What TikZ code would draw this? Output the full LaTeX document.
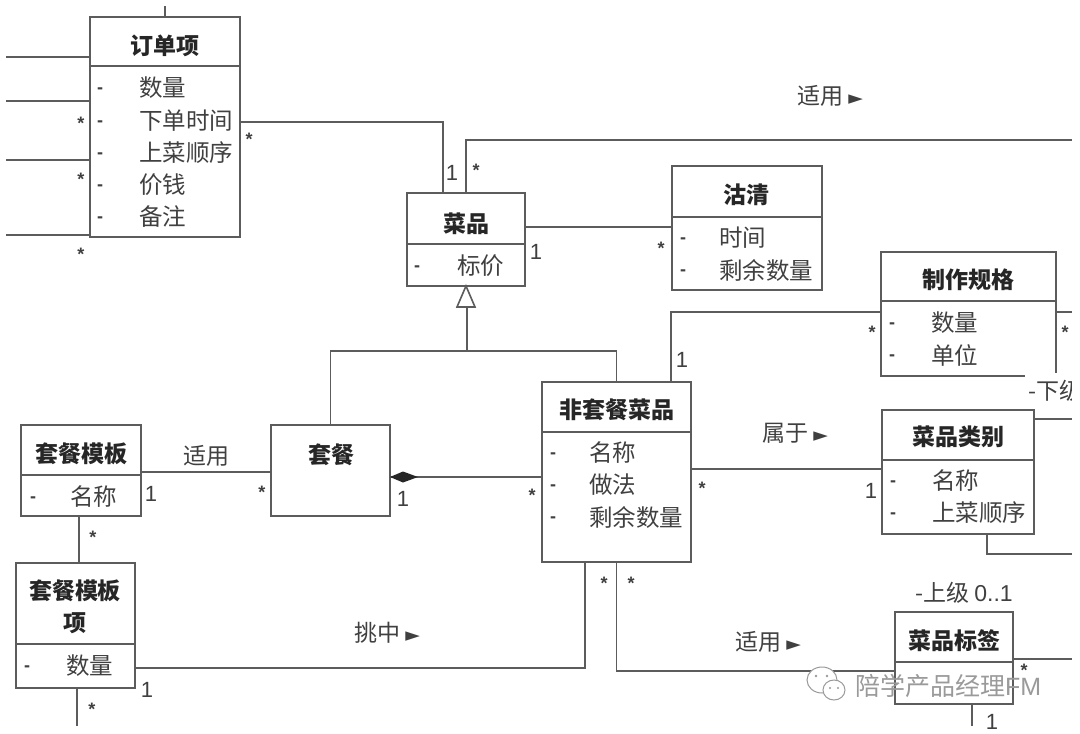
\documentclass[tikz,border=0pt]{standalone}
\usepackage{fontspec}
\setmainfont{Noto Sans CJK SC}
\newfontfamily\symfont{DejaVu Sans}
\newfontfamily\latinfont{Liberation Sans}
\usetikzlibrary{calc}
\definecolor{linec}{HTML}{5C5C5C}
\definecolor{textc}{HTML}{404040}
\definecolor{titlec}{HTML}{262626}
\definecolor{markc}{HTML}{9A9A9A}
\newcommand{\umlbox}[6]{% name x1 y1 x2 y2 divider
  \pgfmathsetmacro{\bw}{#4-#2}\pgfmathsetmacro{\bh}{#5-#3}
  \node[boxnode,minimum width=\bw pt,minimum height=\bh pt,anchor=north west] (#1) at (#2,#3) {};
  \ifx&#6&\else\draw[conn] (#2,#6) -- (#4,#6);\fi}
\newcommand{\arrowsign}{{\symfont\fontsize{19}{19}\selectfont ►}}
\tikzset{
  x=1pt,y=-1pt,
  boxnode/.style={draw=linec,line width=1.6pt,fill=white,inner sep=0pt,outer sep=0pt,rectangle},
  conn/.style={draw=linec,line width=1.6pt},
  title/.style={font=\bfseries\fontsize{23}{25}\selectfont,text=titlec,inner sep=0pt},
  attr/.style={font=\fontsize{23.5}{25}\selectfont,text=textc,inner sep=0pt,anchor=west},
  dashmark/.style={font=\latinfont\bfseries\fontsize{18}{20}\selectfont,text=textc,inner sep=0pt,yshift=-3pt},
  lab/.style={font=\fontsize{23}{25}\selectfont,text=textc,inner sep=0pt},
  one/.style={font=\latinfont\fontsize{22}{24}\selectfont,text=textc,inner sep=0pt},
  many/.style={font=\latinfont\bfseries\fontsize{18}{18}\selectfont,text=textc,inner sep=0pt},
  wm/.style={font=\fontsize{25}{27}\selectfont,text=markc,inner sep=0pt,anchor=west},
}
\begin{document}
\begin{tikzpicture}
\useasboundingbox[fill=white] (0,0) rectangle (1080,734);
% free ends
\coordinate (ltA) at (6,57);\coordinate (ltB) at (6,101);\coordinate (ltC) at (6,160);\coordinate (ltD) at (6,235);
\coordinate (topA) at (165,6);
\coordinate (rtA) at (1072,140);\coordinate (rtB) at (1072,312);\coordinate (rtC) at (1072,419);
\coordinate (rtD) at (1072,554);\coordinate (rtE) at (1072,659);
\coordinate (btA) at (77,726);\coordinate (btB) at (972,726);
% boxes
\umlbox{item}{90}{17}{240}{237}{66}
\umlbox{dish}{407}{193}{525}{286}{244}
\umlbox{sold}{672}{166}{822}{290}{217}
\umlbox{spec}{881}{252}{1056}{376}{301}
\umlbox{cate}{882}{410}{1034}{534}{460}
\umlbox{plain}{542}{382}{691}{562}{432}
\umlbox{combo}{271}{425}{390}{516}{}
\umlbox{tmpl}{21}{425}{141}{516}{475}
\umlbox{tmit}{16}{563}{135}{688}{644}
\umlbox{tag}{895}{612}{1013}{704}{662}
% connectors
\draw[conn] (ltA) -- (ltA -| item.west);
\draw[conn] (ltB) -- (ltB -| item.west);
\draw[conn] (ltC) -- (ltC -| item.west);
\draw[conn] (ltD) -- (ltD -| item.west);
\draw[conn] (topA) -- (item.north);
\draw[conn] ([yshift=5]item.east) -| ([xshift=36]dish.north west);
\draw[conn] (dish.north) |- (rtA);
\draw[conn] ([yshift=12.5]dish.east) -- ([yshift=12.5]dish.east -| sold.west);
% inheritance
\coordinate (inhA) at (467,307);
\coordinate (inhB) at (467,351);
\draw[conn] (dish.south) -- ++(-9,21) -- ++(18,0) -- cycle;
\draw[conn] (inhA) -- (inhB);
\draw[conn] (combo.north) -- (combo.north |- inhB) -- (plain.north |- inhB) -- (plain.north);
\draw[conn] ([xshift=-20]plain.north east) |- ([yshift=2]spec.west);
\draw[conn] ([yshift=3]plain.east) -- ([yshift=3]cate.west);
% composition
\draw[conn] (combo.east |- 0,477) -- (plain.west |- 0,477);
\fill[titlec] (390,477) -- (403,471.5) -- (418,477) -- (403,482.5) -- cycle;
\draw[conn] ([yshift=-1.5]tmpl.east) -- ([yshift=-1.5]combo.west);
\draw[conn] ([xshift=-2]tmpl.south) -- ([xshift=3.5]tmit.north);
\draw[conn] (tmit.south -| btA) -- (btA);
\draw[conn] ([yshift=-42.5]tmit.east) -| ([xshift=43]plain.south west);
\draw[conn] (plain.south) |- ([yshift=-13]tag.west);
\draw[conn] (tag.east |- rtE) -- (rtE);
\draw[conn] (tag.south -| btB) -- (btB);
\draw[conn] (cate.east |- rtC) -- (rtC);
\draw[conn] ([xshift=105]cate.south west) |- (rtD);
\draw[conn] (spec.east |- rtB) -- (rtB);
% titles
\node[title] (t1) at (165,46) {订单项};
\node[title] (t2) at (466,224) {菜品};
\node[title] (t3) at (746,195) {沽清};
\node[title] (t4) at (968,280) {制作规格};
\node[title] (t5) at (958,437) {菜品类别};
\node[title] (t6) at (617,410) {非套餐菜品};
\node[title] (t7) at (331,455) {套餐};
\node[title] (t8) at (81,454) {套餐模板};
\node[title,align=center,font=\bfseries\fontsize{23}{32}\selectfont] (t9) at (75,607) {套餐模板\\项};
\node[title] (t10) at (954,641) {菜品标签};
% attributes
\foreach \yy/\tx [count=\i] in {88/数量,121/下单时间,153/上菜顺序,185/价钱,217/备注}{
  \node[dashmark] (da\i) at (100,\yy) {-};
  \node[attr] (aa\i) at (139,\yy) {\tx};}
\node[dashmark] (db1) at (417,266) {-};
\node[attr] (ab1) at (457,266) {标价};
\foreach \yy/\tx [count=\i] in {238/时间,270/剩余数量}{
  \node[dashmark] (dc\i) at (683,\yy) {-};
  \node[attr] (ac\i) at (719,\yy) {\tx};}
\foreach \yy/\tx [count=\i] in {323/数量,355/单位}{
  \node[dashmark] (dd\i) at (892,\yy) {-};
  \node[attr] (ad\i) at (931,\yy) {\tx};}
\foreach \yy/\tx [count=\i] in {481/名称,513/上菜顺序}{
  \node[dashmark] (de\i) at (893,\yy) {-};
  \node[attr] (ae\i) at (932,\yy) {\tx};}
\foreach \yy/\tx [count=\i] in {453/名称,485/做法,517/剩余数量}{
  \node[dashmark] (df\i) at (553,\yy) {-};
  \node[attr] (af\i) at (589,\yy) {\tx};}
\node[dashmark] (dg1) at (33,497) {-};
\node[attr] (ag1) at (70,497) {名称};
\node[dashmark] (dh1) at (27,666) {-};
\node[attr] (ah1) at (66,666) {数量};
% multiplicities
\foreach \xx/\yy [count=\i] in {81/123,81/179,81/254,249/139,476/170,661/248,872/332,1065/332,702/488,262/492,532/495,93/537,92/709,604/583,631/583,1024/670}{
  \node[many] (m\i) at (\xx,\yy) {*};}
\foreach \xx/\yy [count=\i] in {452/173,536/252,682/360,871/491,151/494,403/499,147/690,992/722}{
  \node[one] (o\i) at (\xx,\yy) {1};}
% association labels
\node[lab] (l1) at (830,96) {适用 \arrowsign};
\node[lab] (l2) at (795,433) {属于 \arrowsign};
\node[lab] (l3) at (206,456) {适用};
\node[lab] (l4) at (387,633) {挑中 \arrowsign};
\node[lab] (l5) at (768,642) {适用 \arrowsign};
\node[lab] (l6) at (964,593) {-上级 {\latinfont 0..1}};
% gap at the corner of 制作规格 and its role label
\fill[white] (1025,373) rectangle (1060,381);
\node[lab,anchor=west] (l7) at (1028,391) {-下级};
% picture edge
\fill[white] (1072,0) rectangle (1080,734);
% watermark
\draw[markc,line width=1pt,fill=white] (822,680) ellipse (15 and 13);
\draw[markc,line width=1pt,fill=white] (834,690) ellipse (11 and 10);
\fill[markc] (816,676) circle (1.3) (827,676) circle (1.3) (830,688) circle (1.2) (838,688) circle (1.2);
\node[wm] (w1) at (855,686) {陪学产品经理{\latinfont FM}};
\end{tikzpicture}
\end{document}
